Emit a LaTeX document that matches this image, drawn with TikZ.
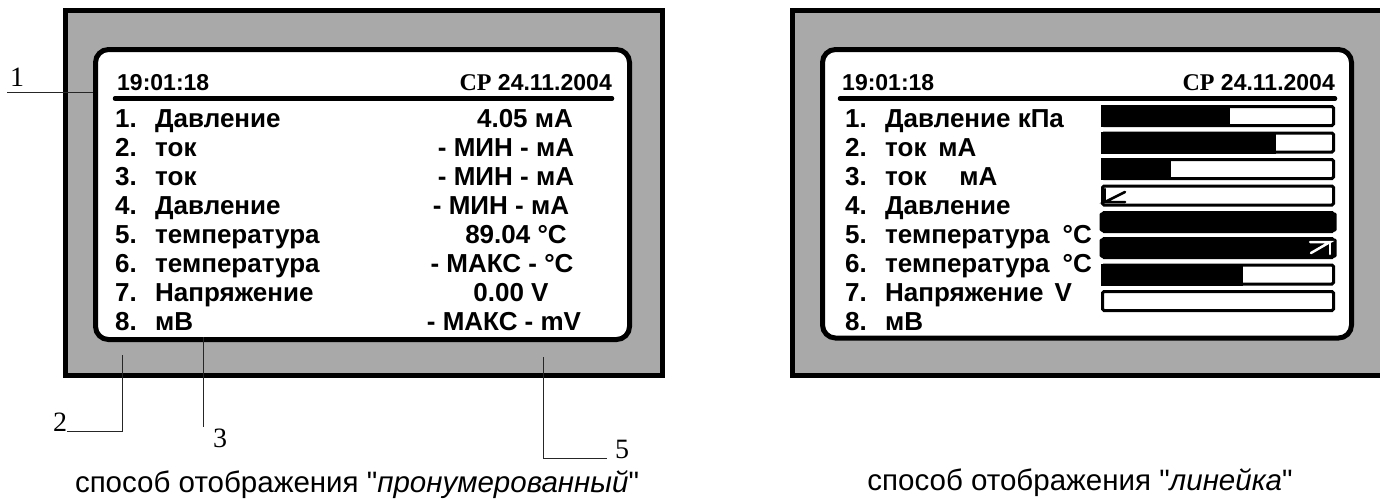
\documentclass[tikz,border=0pt]{standalone}
\usepackage{fontspec}
\setmainfont{Liberation Sans}[Ligatures=TeXOff]
\newfontfamily\serifnum{Liberation Serif}
\usetikzlibrary{positioning}
\definecolor{panelgray}{RGB}{169,169,169}

\begin{document}
\begin{tikzpicture}[x=1pt, y=-1pt,
  frame/.style={draw=black, line width=5pt, fill=panelgray},
  screen/.style={draw=black, line width=5pt, fill=white, rounded corners=13pt},
  row/.style={anchor=base west, inner sep=0pt, font=\fontsize{26}{26}\selectfont\bfseries},
  val/.style={anchor=base, inner sep=0pt, font=\fontsize{26}{26}\selectfont\bfseries},
  head/.style={anchor=base west, inner sep=0pt, font=\fontsize{23}{23}\selectfont\bfseries},
  datum/.style={anchor=base east, inner sep=0pt, font=\fontsize{23}{23}\selectfont\bfseries},
  rule/.style={line width=4.5pt, line cap=round},
  bar/.style={draw, line width=3pt, fill=white, rounded corners=1.5pt,
              minimum width=231pt, minimum height=19pt, inner sep=0pt},
  tick/.style={line width=2.5pt, line cap=round},
  callout/.style={anchor=base, inner sep=0pt, font=\serifnum\fontsize{28}{28}\selectfont},
  leader/.style={draw=black!85, line width=0.9pt},
  caption/.style={anchor=base, inner sep=0pt, font=\fontsize{29.5}{29.5}\selectfont}]
\useasboundingbox (0,0) rectangle (1380,499);
\clip (0,0) rectangle (1380,499);

% left panel: numbered mode
\draw[frame] (65.5,10.5) rectangle (662.5,375.5);
\draw[screen] (95.5,49.5) rectangle (629.5,339.5);
\node[head] (ltime) at (117,90) {19:01:18};
\node[datum] (ldate) at (612,90) {{\serifnum\fontsize{24}{24}\selectfont СР} 24.11.2004};
\draw[rule] (115,98.5) -- (612,98.5);
\node[row] (l1) at (115,127) {\makebox[40pt][l]{1.}Давление};
\node[row] (l2) at (115,156) {\makebox[40pt][l]{2.}ток};
\node[row] (l3) at (115,185) {\makebox[40pt][l]{3.}ток};
\node[row] (l4) at (115,214) {\makebox[40pt][l]{4.}Давление};
\node[row] (l5) at (115,243) {\makebox[40pt][l]{5.}температура};
\node[row] (l6) at (115,272) {\makebox[40pt][l]{6.}температура};
\node[row] (l7) at (115,301) {\makebox[40pt][l]{7.}Напряжение};
\node[row] (l8) at (115,330) {\makebox[40pt][l]{8.}мВ};
\node[val] (v1) at (525,127) {4.05 мА};
\node[val] (v2) at (506,156) {- МИН - мА};
\node[val] (v3) at (506,185) {- МИН - мА};
\node[val] (v4) at (501,214) {- МИН - мА};
\node[val] (v5) at (516,243) {89.04 °C};
\node[val] (v6) at (502,272) {- МАКС - °C};
\node[val] (v7) at (511,301) {0.00 V};
\node[val] (v8) at (504,330) {- МАКС - mV};

% callouts
\node[callout] (n1) at (17,86) {1};
\node[callout] (n2) at (60,431) {2};
\node[callout] (n3) at (220,447) {3};
\node[callout] (n5) at (622,458) {5};
\coordinate (c1a) at (7,92);
\coordinate (c1b) at (93,92);
\coordinate (c2) at (122,355);
\coordinate (c3a) at (203,337);
\coordinate (c3b) at (203,427);
\coordinate (c5) at (543,357);
\draw[leader] (c1a) -- (c1b);
\draw[leader] (c2) |- (n2.base east);
\draw[leader] (c3a) -- (c3b);
\draw[leader] (c5) |- ([xshift=-8pt]n5.base west);
\node[caption] (cap1) at (357,492) {способ отображения "\textit{пронумерованный}"};

% right panel: bar mode
\draw[frame] (792.5,10.5) rectangle (1400,375.5);
\draw[screen] (822.5,49.5) rectangle (1351.5,338);
\node[head] (rtime) at (842,90) {19:01:18};
\node[datum] (rdate) at (1335,90) {{\serifnum\fontsize{24}{24}\selectfont СР} 24.11.2004};
\draw[rule] (840,98.5) -- (1335,98.5);
\node[row] (r1) at (845,127) {\makebox[40pt][l]{1.}Давление кПа};
\node[row] (r2) at (845,156) {\makebox[40pt][l]{2.}ток\hspace{12pt}мА};
\node[row] (r3) at (845,185) {\makebox[40pt][l]{3.}ток\hspace{33pt}мА};
\node[row] (r4) at (845,214) {\makebox[40pt][l]{4.}Давление};
\node[row] (r5) at (845,243) {\makebox[40pt][l]{5.}температура\hspace{13pt}°C};
\node[row] (r6) at (845,272) {\makebox[40pt][l]{6.}температура\hspace{13pt}°C};
\node[row] (r7) at (845,301) {\makebox[40pt][l]{7.}Напряжение\hspace{11pt}V};
\node[row] (r8) at (845,330) {\makebox[40pt][l]{8.}мВ};

\node[bar] (b1) at (1218,116) {};
\node[bar] (b2) at (1218,142.5) {};
\node[bar] (b3) at (1218,169) {};
\node[bar] (b4) at (1218,195.5) {};
\node[bar] (b5) at (1218,222) {};
\node[bar] (b6) at (1218,248) {};
\node[bar] (b7) at (1218,274.5) {};
\node[bar] (b8) at (1218,301) {};
\fill (b1.north west) rectangle (1230,127);
\fill (b2.north west) rectangle (1276,153.5);
\fill (b3.north west) rectangle (1171,180);
\fill[rounded corners=1.5pt] ([shift={(-1.5pt,-1.5pt)}]b5.north west) rectangle ([shift={(1.5pt,1.5pt)}]b5.south east);
\fill[rounded corners=1.5pt] ([shift={(-1.5pt,-1.5pt)}]b6.north west) rectangle ([shift={(1.5pt,1.5pt)}]b6.south east);
\fill (b7.north west) rectangle (1243,285.5);
\draw[tick] (1125,192) -- (1105,202) -- (1125,202);
\draw[tick] (1105,189) -- (1105,202);
\draw[tick, white] (1311,253) -- (1330,242) -- (1310,242);
\draw[tick, white] (1330,242) -- (1330,254);
\node[caption] (cap2) at (1080,490) {способ отображения "\textit{линейка}"};
\end{tikzpicture}
\end{document}
